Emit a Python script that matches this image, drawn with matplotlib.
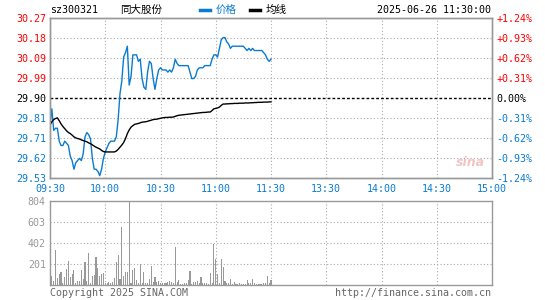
import numpy as np
import matplotlib
matplotlib.use("Agg")
import matplotlib.pyplot as plt
from matplotlib.lines import Line2D

prev_close = 29.90

# minute prices 09:30 .. 11:30 (121 points)
price = [29.78, 29.85, 29.75, 29.76, 29.76, 29.70, 29.68, 29.68, 29.70, 29.69,
         29.68, 29.63, 29.61, 29.57, 29.60, 29.61, 29.62, 29.61, 29.64, 29.72,
         29.74, 29.73, 29.71, 29.62, 29.57, 29.57, 29.56, 29.54, 29.57, 29.62,
         29.65, 29.67, 29.69, 29.70, 29.70, 29.70, 29.72, 29.80, 29.92, 29.98,
         30.09, 30.11, 30.14, 29.96, 30.00, 30.10, 30.10, 30.10, 30.07, 30.08,
         29.99, 29.95, 29.94, 30.02, 30.07, 30.06, 29.99, 29.94, 29.99, 30.03,
         30.04, 30.03, 30.03, 30.03, 30.02, 30.03, 30.02, 30.04, 30.08, 30.06,
         30.05, 30.05, 30.05, 30.05, 30.05, 30.05, 30.02, 29.99, 29.99, 30.00,
         30.03, 30.04, 30.04, 30.04, 30.05, 30.05, 30.05, 30.05, 30.08, 30.10,
         30.10, 30.09, 30.13, 30.17, 30.18, 30.18, 30.16, 30.15, 30.13, 30.14,
         30.14, 30.14, 30.14, 30.14, 30.14, 30.14, 30.13, 30.12, 30.13, 30.12,
         30.13, 30.12, 30.12, 30.12, 30.12, 30.12, 30.11, 30.10, 30.08, 30.07,
         30.08]

avg = [29.775, 29.790, 29.800, 29.805, 29.808, 29.795, 29.780, 29.768, 29.758, 29.748,
       29.740, 29.735, 29.728, 29.720, 29.715, 29.712, 29.710, 29.706, 29.703, 29.700,
       29.697, 29.692, 29.688, 29.683, 29.677, 29.672, 29.668, 29.664, 29.657, 29.652,
       29.650, 29.650, 29.650, 29.650, 29.650, 29.650, 29.654, 29.662, 29.672, 29.682,
       29.694, 29.712, 29.735, 29.752, 29.765, 29.772, 29.778, 29.780, 29.782, 29.785,
       29.788, 29.789, 29.790, 29.792, 29.795, 29.797, 29.800, 29.801, 29.802, 29.804,
       29.806, 29.808, 29.809, 29.810, 29.810, 29.811, 29.811, 29.812, 29.815, 29.818,
       29.820, 29.821, 29.822, 29.823, 29.824, 29.825, 29.826, 29.827, 29.828, 29.829,
       29.830, 29.831, 29.832, 29.833, 29.833, 29.834, 29.835, 29.835, 29.842, 29.850,
       29.852, 29.854, 29.858, 29.866, 29.872, 29.872, 29.873, 29.873, 29.874, 29.874,
       29.875, 29.875, 29.875, 29.876, 29.876, 29.876, 29.877, 29.877, 29.877, 29.878,
       29.878, 29.879, 29.879, 29.880, 29.880, 29.880, 29.881, 29.881, 29.881, 29.882,
       29.882]

volume = [57, 86, 38, 335, 64, 105, 124, 19, 77, 153,
          230, 77, 105, 144, 19, 38, 38, 144, 57, 220,
          38, 306, 19, 86, 96, 268, 163, 86, 105, 115,
          19, 19, 29, 19, 29, 64, 220, 287, 57, 555,
          86, 124, 124, 900, 19, 144, 163, 48, 19, 201,
          19, 124, 19, 19, 57, 182, 29, 77, 29, 38,
          22, 22, 22, 22, 32, 38, 32, 15, 364, 32,
          48, 10, 10, 19, 19, 48, 134, 10, 32, 32,
          38, 19, 77, 19, 19, 19, 10, 115, 15, 392,
          249, 105, 15, 249, 175, 38, 15, 22, 57, 10,
          32, 10, 10, 22, 10, 10, 10, 48, 15, 15,
          57, 22, 10, 10, 10, 10, 15, 22, 86, 15,
          48]

pct_labels = ["+1.24%", "+0.93%", "+0.62%", "+0.31%", "0.00%",
              "-0.31%", "-0.62%", "-0.93%", "-1.24%"]
price_labels = ["30.27", "30.18", "30.09", "29.99", "29.90",
                "29.81", "29.71", "29.62", "29.53"]
time_labels = ["09:30", "10:00", "10:30", "11:00", "11:30",
               "13:30", "14:00", "14:30", "15:00"]
vol_labels = ["201", "402", "603", "804"]

BLUE = "#0a7bd0"
RED = "#ff0000"
GRAY = "#999999"
MONO = "DejaVu Sans Mono"

W, H = 545, 300
fig = plt.figure(figsize=(W / 100, H / 100), dpi=100)
fig.patch.set_facecolor("white")

def box(x0, y0, x1, y1):
    return [x0 / W, 1 - y1 / H, (x1 - x0) / W, (y1 - y0) / H]

ax = fig.add_axes(box(50, 18, 492, 178))
axv = fig.add_axes(box(50, 201, 492, 285))

minutes = np.arange(len(price))
span = 0.0124
lo, hi = prev_close * (1 - span), prev_close * (1 + span)
levels = np.linspace(hi, lo, 9)

ax.plot(minutes, price, color=BLUE, lw=1.0, zorder=3)
ax.plot(minutes, avg, color="black", lw=1.0, zorder=3)
ax.set_xlim(0, 240)
ax.set_ylim(lo, hi)

for i, lv in enumerate(levels):
    if i == 4:
        ax.axhline(lv, color="black", lw=1.0, ls=(0, (2, 1.5)), zorder=2)
    elif 0 < i < 8:
        ax.axhline(lv, color="#aaaaaa", lw=0.8, ls=(0, (1, 2)), zorder=1)
for t in range(30, 240, 30):
    ax.axvline(t, color="#aaaaaa", lw=0.8, ls=(0, (1, 2)), zorder=1)
    axv.axvline(t, color="#aaaaaa", lw=0.8, ls=(0, (1, 2)), zorder=1)

ax.set_yticks(levels)
ax.set_yticklabels(price_labels, fontfamily=MONO, fontsize=7.2)
for i, lab in enumerate(ax.get_yticklabels()):
    lab.set_color(RED if i < 4 else ("black" if i == 4 else BLUE))
ax.tick_params(axis="y", length=0, pad=3)

ax2 = ax.twinx()
ax2.set_ylim(lo, hi)
ax2.set_yticks(levels)
ax2.set_yticklabels(pct_labels, fontfamily=MONO, fontsize=7.2)
for i, lab in enumerate(ax2.get_yticklabels()):
    lab.set_color(RED if i < 4 else ("black" if i == 4 else BLUE))
ax2.tick_params(axis="y", length=0, pad=3)

ax.set_xticks(range(0, 241, 30))
ax.set_xticklabels(time_labels, fontfamily=MONO, fontsize=7.2, color=BLUE)
ax.tick_params(axis="x", length=0, pad=4)

for a in (ax, ax2, axv):
    for s in a.spines.values():
        s.set_color(GRAY)
        s.set_linewidth(1.0)

axv.bar(minutes, volume, width=0.6, color=GRAY, zorder=3)
axv.set_xlim(0, 240)
axv.set_ylim(0, 804)
for v in (201, 402, 603):
    axv.axhline(v, color="#aaaaaa", lw=0.8, ls=(0, (1, 2)), zorder=1)
axv.set_xticks([])
axv.set_yticks([201, 402, 603, 804])
axv.set_yticklabels(vol_labels, fontfamily=MONO, fontsize=7.2, color=GRAY)
axv.tick_params(axis="y", length=0, pad=3)

# header
ty = 1 - 10 / H
fig.text(50 / W, ty, "sz300321", fontfamily=MONO, fontsize=7.2,
         va="center", ha="left")
fig.text(120 / W, ty, "同大股份", fontfamily="Noto Sans CJK SC",
         fontsize=7.6, va="center", ha="left")
fig.add_artist(Line2D([200 / W, 210 / W], [ty, ty], color=BLUE, lw=2.5,
                      transform=fig.transFigure))
fig.text(216 / W, ty, "价格", color=BLUE, fontfamily="Noto Sans CJK SC",
         fontsize=7.6, va="center", ha="left")
fig.add_artist(Line2D([250 / W, 260 / W], [ty, ty], color="black", lw=2.5,
                      transform=fig.transFigure))
fig.text(266 / W, ty, "均线", color="black", fontfamily="Noto Sans CJK SC",
         fontsize=7.6, va="center", ha="left")
fig.text(491 / W, ty, "2025-06-26 11:30:00", fontfamily=MONO,
         fontsize=7.2, va="center", ha="right")

# footer
fig.text(50 / W, 1 - 293 / H, "Copyright 2025 SINA.COM", fontfamily=MONO,
         fontsize=7.2, color="#666666", va="center", ha="left")
fig.text(491 / W, 1 - 293 / H, "http://finance.sina.com.cn", fontfamily=MONO,
         fontsize=7.2, color="#666666", va="center", ha="right")

# watermark
fig.text(470 / W, 1 - 162 / H, "sina", fontfamily="DejaVu Sans", fontsize=9,
         fontstyle="italic", fontweight="bold", color="#f2c4c4",
         va="center", ha="center", zorder=0)

fig.savefig("out.png", dpi=100)
